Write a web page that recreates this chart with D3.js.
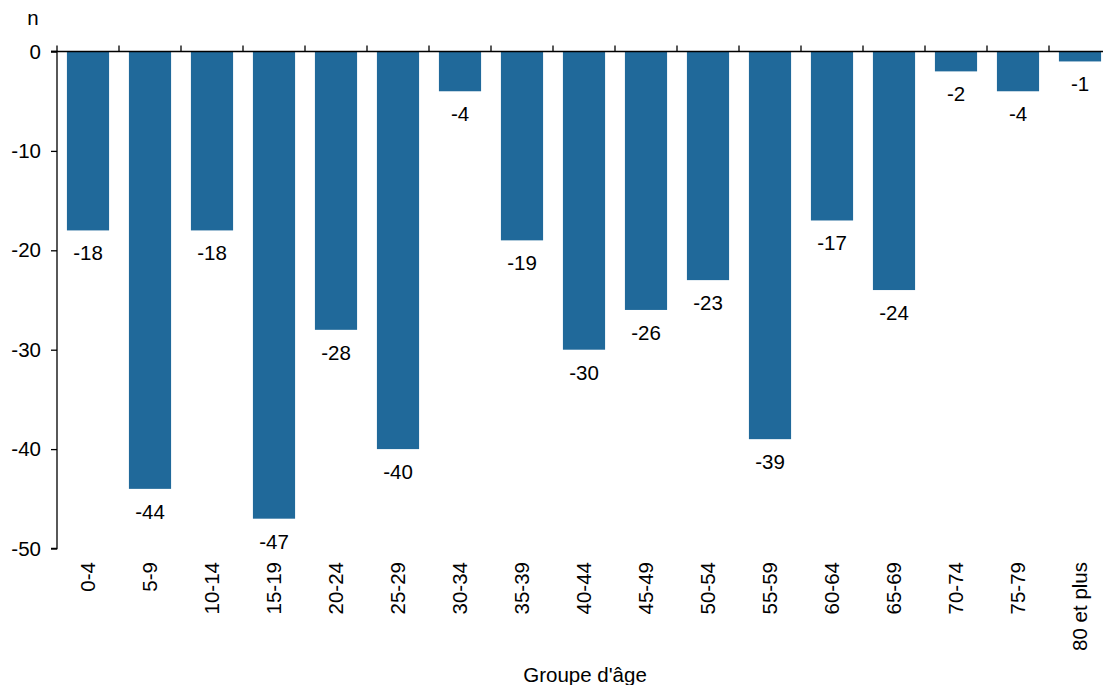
<!DOCTYPE html>
<html>
<head>
<meta charset="utf-8">
<script src="https://cdn.jsdelivr.net/npm/d3@7"></script>
<style>
  html, body { margin: 0; padding: 0; background: #fff; }
  svg { display: block; font-family: "Liberation Sans", Arial, sans-serif; }
</style>
</head>
<body>
<svg id="chart" width="1103" height="685"></svg>
<script>
// Variation by age group
const categories = ["0-4", "5-9", "10-14", "15-19", "20-24", "25-29", "30-34", "35-39",
  "40-44", "45-49", "50-54", "55-59", "60-64", "65-69", "70-74", "75-79", "80 et plus"];
const values = [-18, -44, -18, -47, -28, -40, -4, -19, -30, -26, -23, -39, -17, -24, -2, -4, -1];
const yTicks = [0, -10, -20, -30, -40, -50];
const yTitle = "n";
const xTitle = "Groupe d'âge";

(function () {
  const barColor = "#20699a";
  const fontSize = 20.5;
  const fmt = d => String(d); // plain hyphen-minus

  const svg = d3.select("#chart");
  const W = 1103;
  const plotLeft = 57, plotTop = 51.5, plotBottom = 548.5;
  const step = 62;

  const x = d3.scaleBand()
    .domain(categories)
    .range([plotLeft, plotLeft + step * categories.length])
    .paddingInner(0.32)
    .paddingOuter(0.16);

  const y = d3.scaleLinear().domain([0, -50]).range([plotTop, plotBottom]);

  // bars
  svg.append("g").selectAll("rect")
    .data(values)
    .join("rect")
    .attr("x", (d, i) => x(categories[i]))
    .attr("y", y(0))
    .attr("width", x.bandwidth())
    .attr("height", d => y(d) - y(0))
    .attr("fill", barColor);

  // value labels below each bar
  svg.append("g").selectAll("text")
    .data(values)
    .join("text")
    .attr("x", (d, i) => x(categories[i]) + x.bandwidth() / 2)
    .attr("y", d => y(d) + 30)
    .attr("text-anchor", "middle")
    .attr("font-size", fontSize)
    .attr("fill", "#000")
    .text(fmt);

  // y axis
  const yAxis = d3.axisLeft(y).tickValues(yTicks).tickSize(6).tickPadding(10).tickFormat(fmt);
  const gy = svg.append("g").attr("transform", `translate(${plotLeft},0)`).call(yAxis);
  gy.select(".domain").attr("d", `M-6,${plotTop}H0V${plotBottom}H-6`).attr("stroke", "#000").attr("stroke-width", 1.3);
  gy.selectAll(".tick line").attr("stroke", "#000").attr("stroke-width", 1.3);
  gy.selectAll(".tick text").attr("font-size", fontSize).attr("fill", "#000")
    .attr("font-family", "Liberation Sans, Arial, sans-serif");

  // zero line with tick marks between categories
  svg.append("line")
    .attr("x1", plotLeft - 6).attr("x2", W)
    .attr("y1", y(0)).attr("y2", y(0))
    .attr("stroke", "#000").attr("stroke-width", 1.3);

  const boundaries = d3.range(categories.length).map(i => plotLeft + i * step);
  svg.append("g").selectAll("line")
    .data(boundaries)
    .join("line")
    .attr("x1", d => d).attr("x2", d => d)
    .attr("y1", y(0) - 6).attr("y2", y(0))
    .attr("stroke", "#000").attr("stroke-width", 1.3);

  // category labels, rotated
  svg.append("g").selectAll("text")
    .data(categories)
    .join("text")
    .attr("transform", d => `translate(${x(d) + x.bandwidth() / 2},562) rotate(-90)`)
    .attr("dy", "0.35em")
    .attr("text-anchor", "end")
    .attr("font-size", fontSize)
    .attr("fill", "#000")
    .text(d => d);

  // axis titles
  svg.append("text")
    .attr("x", 33).attr("y", 25)
    .attr("text-anchor", "middle")
    .attr("font-size", fontSize)
    .text(yTitle);

  svg.append("text")
    .attr("x", 585).attr("y", 682)
    .attr("text-anchor", "middle")
    .attr("font-size", fontSize)
    .text(xTitle);
})();
</script>
</body>
</html>
